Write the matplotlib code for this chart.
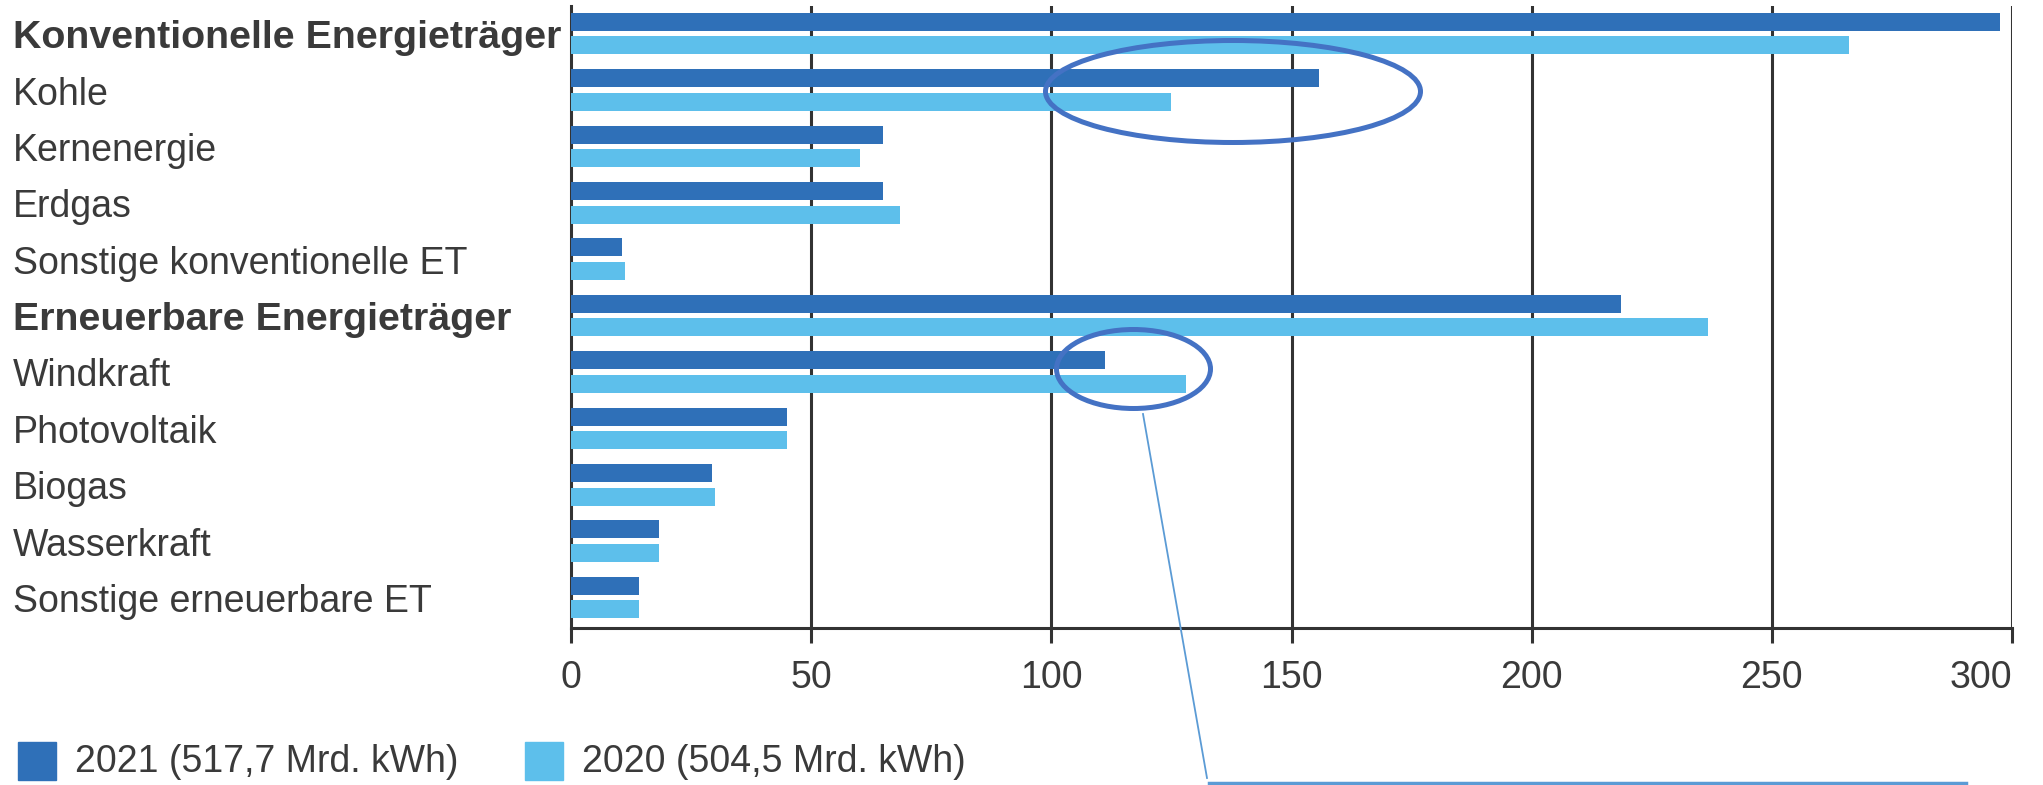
import numpy as np
import matplotlib
matplotlib.use('Agg')
import matplotlib.pyplot as plt
from matplotlib.patches import Ellipse, Rectangle
from matplotlib.lines import Line2D

plt.rcParams['font.family'] = ['Liberation Sans', 'DejaVu Sans']

# data (Mrd. kWh)
categories = ["Konventionelle Energieträger", "Kohle", "Kernenergie", "Erdgas",
              "Sonstige konventionelle ET", "Erneuerbare Energieträger", "Windkraft",
              "Photovoltaik", "Biogas", "Wasserkraft", "Sonstige erneuerbare ET"]
bold_rows = [0, 5]
values_2021 = [297.5, 155.7, 65.0, 65.0, 10.6, 218.5, 111.1, 44.9, 29.4, 18.3, 14.2]
values_2020 = [266.0, 124.9, 60.1, 68.5, 11.2, 236.7, 128.0, 44.9, 29.9, 18.3, 14.2]
legend_labels = ["2021 (517,7 Mrd. kWh)", "2020 (504,5 Mrd. kWh)"]
xticks = [0, 50, 100, 150, 200, 250, 300]

c2021 = '#2F70B8'
c2020 = '#5DBFEB'
txt = '#3A3A3A'
grid = '#333333'
W, H = 2043, 785

fig = plt.figure(figsize=(W/100., H/100.), dpi=100)
ax = fig.add_axes([571/W, 1-628/H, (2012-571)/W, (628-6)/H])

y = np.arange(len(categories))
bh = 0.32
off = 0.21
ax.barh(y - off, values_2021, bh, color=c2021, zorder=3)
ax.barh(y + off, values_2020, bh, color=c2020, zorder=3)

ax.set_xlim(0, 300)
ax.set_ylim(len(categories) - 1 + 0.54, -0.49)
ax.set_xticks(xticks)
ax.set_xticklabels([str(t) for t in xticks])
ax.set_yticks([])
ax.tick_params(axis='x', length=11, width=2.2, color=grid, labelsize=27,
               labelcolor=txt, pad=12)
ax.get_xticklabels()[-1].set_horizontalalignment('right')
for t in xticks[1:]:
  ax.axvline(t, color=grid, lw=2.2, zorder=1)
for s in ['top', 'right']:
  ax.spines[s].set_visible(False)
for s in ['left', 'bottom']:
  ax.spines[s].set_color(grid)
  ax.spines[s].set_linewidth(2.2)
  ax.spines[s].set_zorder(2)

# category labels
trans = matplotlib.transforms.blended_transform_factory(fig.transFigure, ax.transData)
for i, name in enumerate(categories):
  if i in bold_rows:
    ax.text(13/W, i + 0.08, name, transform=trans, ha='left', va='center',
            fontsize=28.4, color=txt, fontweight='bold')
  else:
    ax.text(13/W, i + 0.08, name, transform=trans, ha='left', va='center',
            fontsize=27, color=txt)

# annotations: ellipses and connector (figure pixels)
def fx(px):
  return px / W
def fy(py):
  return 1 - py / H

ec = '#4472C4'
fig.patches.append(Ellipse((fx(1233), fy(91.5)), 375/W, 102/H, fill=False,
                           edgecolor=ec, lw=3.6, transform=fig.transFigure, zorder=5))
fig.patches.append(Ellipse((fx(1133.5), fy(369)), 154/W, 79/H, fill=False,
                           edgecolor=ec, lw=3.6, transform=fig.transFigure, zorder=5))
lc = '#5B9BD5'
fig.lines.append(Line2D([fx(1143), fx(1207)], [fy(414), fy(778)], color=lc, lw=1.3,
                        transform=fig.transFigure))
fig.lines.append(Line2D([fx(1209), fx(1966)], [fy(783), fy(783)], color=lc, lw=2.5,
                        transform=fig.transFigure))

# legend
fig.patches.append(Rectangle((fx(18), fy(780)), 38/W, 38/H, color=c2021,
                             transform=fig.transFigure))
fig.text(fx(75), fy(762), legend_labels[0], ha='left', va='center', fontsize=27, color=txt)
fig.patches.append(Rectangle((fx(525), fy(780)), 38/W, 38/H, color=c2020,
                             transform=fig.transFigure))
fig.text(fx(582), fy(762), legend_labels[1], ha='left', va='center', fontsize=27, color=txt)

fig.savefig('out.png', dpi=100)
